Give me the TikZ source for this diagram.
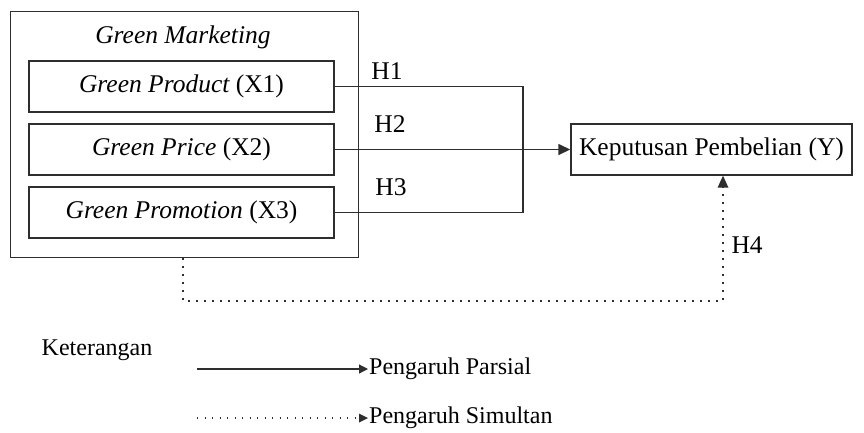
\documentclass[tikz,border=0pt]{standalone}
\usepackage{fontspec}
\setmainfont{Liberation Serif}
\usetikzlibrary{arrows.meta}
\definecolor{ln}{HTML}{2E2E2E}
\tikzset{
  every node/.style={font=\fontsize{25.5}{30}\selectfont, text=black},
  leg/.style={font=\fontsize{24}{28}\selectfont},
  box/.style={draw=ln, line width=1.4pt, inner sep=0pt},
  con/.style={draw=ln, line width=1.5pt},
  dot/.style={draw=ln, line width=1.7pt, dash pattern=on 1.7pt off 6.3pt},
  tip/.style={-{Triangle[length=12pt,width=11pt]}},
  ltip/.style={-{Triangle[length=9pt,width=9pt]}},
}
\begin{document}
\begin{tikzpicture}[x=1pt,y=-1pt]
\useasboundingbox (0,0) rectangle (864,432);
% outer group
\node[box, minimum width=348pt, minimum height=246pt, anchor=north west] (gm) at (10,11) {};
\node (gmt) at (183,37) {\itshape Green Marketing};
\node[box, minimum width=305pt, minimum height=51pt] (x1) at (181.5,86.5) {\itshape Green Product \upshape(X1)};
\node[box, minimum width=305pt, minimum height=51pt] (x2) at (181.5,149.5) {\itshape Green Price \upshape(X2)};
\node[box, minimum width=305pt, minimum height=51pt] (x3) at (181.5,212.5) {\itshape Green Promotion \upshape(X3)};
\node[box, minimum width=281pt, minimum height=51pt] (y) at (711.5,149.5) {Keputusan Pembelian (Y)};
% junction
\coordinate (j1) at (523,86.5);
\coordinate (j3) at (523,212.5);
\draw[con] (x1.east) -- (j1) -- (j3) -- (x3.east);
\draw[con, tip] (x2.east) -- (y.west);
\node (h1) at (387,71) {H1};
\node (h2) at (390,124) {H2};
\node (h3) at (391,187) {H3};
% simultaneous
\coordinate (d1) at (183,301);
\coordinate (d2) at (723,301);
\draw[dot] (gm.south -| d1) -- (d1) -- (d2) -- (723,187);
\fill[ln] (y.south -| d2) -- ++(-5.5,12) -- ++(11,0) -- cycle;
\node[anchor=west] (h4) at (728,245) {H4};
% legend
\node[leg] (ket) at (97,350) {Keterangan};
\node[leg, anchor=west, inner sep=1pt] (l1) at (368,369) {Pengaruh Parsial};
\coordinate (l1a) at (197,369);
\draw[con, line width=1.2pt, ltip] (l1a) -- (l1.west);
\node[leg, anchor=west, inner sep=1pt] (l2) at (368,418) {Pengaruh Simultan};
\coordinate (l2a) at (197,418);
\draw[dot, line width=1.3pt, dash pattern=on 1.3pt off 6.2pt] (l2a) -- (359,418);
\fill[ln] (l2.west) -- ++(-9,-4.5) -- ++(0,9) -- cycle;
\end{tikzpicture}
\end{document}
